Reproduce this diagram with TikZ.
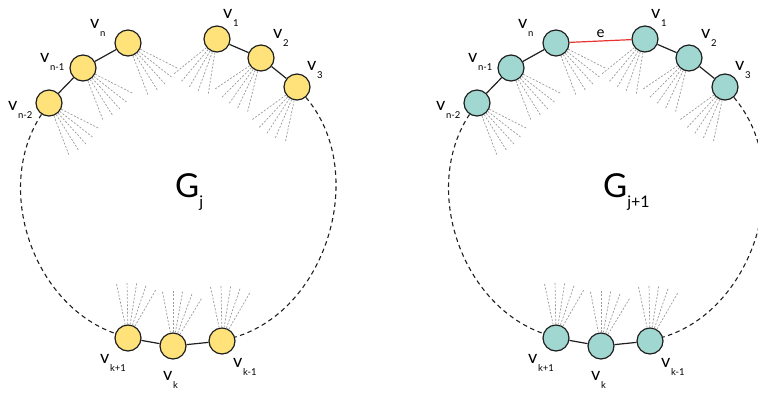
\documentclass[tikz,border=0pt]{standalone}
\usepackage{fontspec}
\setmainfont{Lato}
\usetikzlibrary{calc,positioning}
\definecolor{yelc}{HTML}{FFE37A}
\definecolor{teac}{HTML}{A0D8D1}
\definecolor{fanc}{HTML}{9A9A9A}
\definecolor{redc}{HTML}{E8322E}
\newcommand{\vsub}[1]{v\kern0.6pt\raisebox{-8pt}{\fontsize{9.5}{9.5}\selectfont #1}}
\tikzset{
  vx/.style={circle,draw=black!88,line width=1.2pt,minimum size=26pt,inner sep=0pt},
  ed/.style={line width=1.2pt,black!88},
  fan/.style={fanc,line width=0.7pt,dash pattern=on 2pt off 1.6pt},
  ring/.style={line width=1.1pt,black!88,dash pattern=on 4.5pt off 3.5pt},
  lbl/.style={anchor=base west,inner sep=0pt,font=\fontsize{18}{18}\selectfont},
  gl/.style={anchor=base west,inner sep=0pt,font=\fontsize{33}{33}\selectfont}
}
\begin{document}
\begin{tikzpicture}[x=1pt,y=-1pt]
\useasboundingbox (0,0) rectangle (758,392);
\foreach \p/\dx/\fc/\g in {L/0/yelc/j,R/428/teac/j+1}{
\begin{scope}[xshift=\dx pt]
\foreach \nm/\x/\y/\lx/\ly/\sb/\fa in {n2/49/103/8/110/{n-2}/-48,n1/83/68/40/62/{n-1}/-48,n/128/43/90/28/n/-48,
  1/217/39/223/18/1/-120,2/261/58/273/38/2/-125,3/297/87/307/70/3/-123,
  kp/128/338/100/363/{k+1}/81,k/173/346/163/380/k/80,km/222/341/233/367/{k-1}/81}{
  \node[vx,fill=\fc] (\p\nm) at (\x,\y) {};
  \node[lbl] (\p l\nm) at (\lx,\ly) {\vsub{\sb}};
  \foreach \o [evaluate=\o as \ang using int(\fa+\o)] in {-21,-10,0,10,21}
    \draw[fan] (\p\nm.\ang) -- ++(\ang:42pt);
}
\draw[ed] (\p n2) -- (\p n1) -- (\p n);
\draw[ed] (\p 1) -- (\p 2) -- (\p 3);
\draw[ed] (\p kp) -- (\p k) -- (\p km);
\draw[ring] (\p n2) to[bend right=52,looseness=0.97] (\p kp);
\draw[ring] (\p 3) to[bend left=57,looseness=0.99] (\p km);
\node[gl] (\p G) at (175,197) {G\raisebox{-10pt}{\fontsize{16}{16}\selectfont\g}};
\end{scope}}
\draw[line width=1.2pt,redc] (Rn) -- (R1) node[midway,above=2pt,inner sep=1pt,text=black,font=\fontsize{15}{15}\selectfont] (e) {e};
\end{tikzpicture}
\end{document}
